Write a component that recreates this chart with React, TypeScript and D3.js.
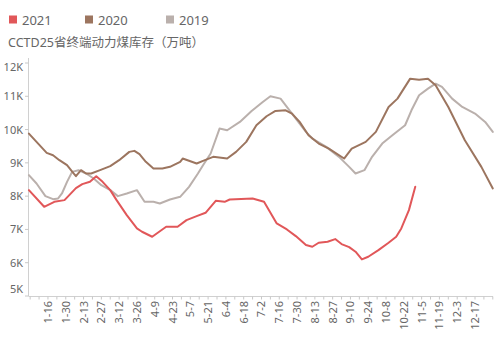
import React from "react";
import * as d3 from "d3";

// day-of-year (2020 leap calendar) and values
const days2021 = [0,12,20,28,37,42,48,53,58,64,69,77,85,89,97,108,117,124,132,139,147,154,158,176,185,195,203,210,218,223,228,235,241,246,252,257,262,267,275,283,289,293,299,304];
const vals2021 = [8180,7680,7830,7880,8240,8360,8430,8600,8430,8180,7880,7430,7030,6930,6780,7080,7080,7280,7400,7500,7860,7830,7900,7930,7830,7180,7000,6800,6530,6480,6600,6630,6710,6560,6470,6330,6100,6180,6380,6600,6780,7030,7580,8280];

const days2020 = [0,6,14,19,24,30,35,37,41,45,49,56,64,71,79,83,87,92,98,105,111,119,121,132,137,145,156,163,171,179,187,194,202,207,213,220,228,236,248,254,265,273,283,290,300,307,314,320,330,343,356,365];
const vals2020 = [9880,9630,9300,9230,9080,8930,8690,8600,8780,8680,8680,8780,8900,9080,9330,9360,9260,9030,8830,8830,8880,9030,9130,8980,9060,9180,9130,9330,9630,10130,10400,10560,10580,10480,10230,9830,9580,9430,9130,9430,9630,9930,10680,10930,11530,11500,11530,11330,10680,9680,8880,8230];

const days2019 = [0,6,13,19,23,26,30,34,39,45,51,57,64,70,77,85,91,98,103,111,119,126,133,137,143,150,156,166,175,184,190,198,207,218,223,234,244,252,257,264,270,278,286,296,301,307,314,320,325,333,341,351,359,365];
const vals2019 = [8630,8380,8000,7910,7930,8080,8430,8730,8780,8680,8530,8330,8180,8000,8080,8180,7830,7830,7780,7900,7980,8280,8680,8930,9280,10030,9980,10230,10550,10830,11000,10930,10480,9930,9730,9480,9180,8880,8680,8780,9180,9580,9830,10130,10580,11030,11230,11380,11280,10930,10680,10480,10230,9930];

const seriesNames = ["2021", "2020", "2019"];
const seriesColors = ["#e15759", "#9c755f", "#bab0ac"];
const yTicks = [5000, 6000, 7000, 8000, 9000, 10000, 11000, 12000];
const titleText = "CCTD25省终端动力煤库存（万吨）";

const W = 500, H = 339;
const FONT = "'Noto Sans', 'Noto Sans CJK SC', sans-serif";

export default function App() {
  const base = new Date(2020, 0, 1);
  const dayToDate = (d: number) => d3.timeDay.offset(base, d);
  const x = d3.scaleTime().domain([base, new Date(2020, 11, 31)]).range([28.9, 492.8]);
  const y = d3.scaleLinear().domain([5000, 12000]).range([296, 63]);

  const line = d3.line<[number, number]>()
    .x(d => x(dayToDate(d[0])))
    .y(d => y(d[1]))
    .curve(d3.curveLinear);

  const series = [
    { name: "2019", days: days2019, vals: vals2019, color: seriesColors[2] },
    { name: "2020", days: days2020, vals: vals2020, color: seriesColors[1] },
    { name: "2021", days: days2021, vals: vals2021, color: seriesColors[0] },
  ];

  const minorTicks: Date[] = [];
  for (let d = 1; d <= 365; d += 7) minorTicks.push(dayToDate(d));
  const labelTicks: Date[] = [];
  for (let d = 15; d <= 355; d += 14) labelTicks.push(dayToDate(d));
  const fmt = (dt: Date) => `${dt.getMonth() + 1}-${dt.getDate()}`;

  const legendX = [9, 85, 166];

  return (
    <svg width={W} height={H} style={{ position: "absolute", left: 0, top: 0, background: "#fff" }} fontFamily={FONT}>
      {/* legend */}
      {seriesNames.map((n, i) => (
        <g key={n}>
          <rect x={legendX[i]} y={15.5} width={8} height={8} fill={seriesColors[i]} />
          <text x={legendX[i] + 13} y={24.5} fontSize={13} fill="#666">{n}</text>
        </g>
      ))}
      <text x={8} y={47} fontSize={12.5} fill="#666">{titleText}</text>

      {/* y axis */}
      <line x1={28.5} x2={28.5} y1={58} y2={296} stroke="#d0d0d0" strokeWidth={1} />
      {yTicks.map((t) => {
        const yy = y(t);
        const dy = t === 12000 ? 8 : t === 5000 ? -3 : 4;
        return (
          <g key={t}>
            <line x1={25} x2={28.5} y1={yy} y2={yy} stroke="#c8c8c8" />
            <text x={23} y={yy + dy} fontSize={11} fill="#666" textAnchor="end">{`${t / 1000}K`}</text>
          </g>
        );
      })}

      {/* x axis */}
      <line x1={28.5} x2={493} y1={296.5} y2={296.5} stroke="#d0d0d0" />
      {minorTicks.map((t, i) => (
        <line key={i} x1={x(t)} x2={x(t)} y1={296.5} y2={299.5} stroke="#c8c8c8" />
      ))}
      {labelTicks.map((t, i) => {
        const xx = x(t);
        return (
          <text key={i} transform={`translate(${xx + 4},301) rotate(-90)`} fontSize={11} fill="#666" textAnchor="end">
            {fmt(t)}
          </text>
        );
      })}

      {/* lines */}
      {series.map(s => (
        <path key={s.name}
          d={line(s.days.map((d, i) => [d, s.vals[i]] as [number, number])) || ""}
          fill="none" stroke={s.color} strokeWidth={2} strokeLinejoin="round" strokeLinecap="round" />
      ))}
    </svg>
  );
}
